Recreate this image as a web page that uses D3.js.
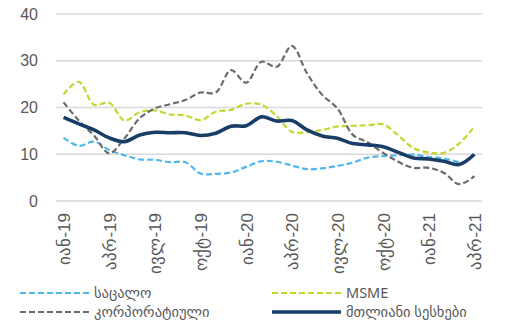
<!DOCTYPE html>
<html>
<head>
<meta charset="utf-8">
<script src="https://cdn.jsdelivr.net/npm/d3@7"></script>
<style>
  body { margin: 0; background: #fff; }
  svg { font-family: "Noto Sans", "DejaVu Sans", sans-serif; }
</style>
</head>
<body>
<div id="chart"></div>
<script>
// monthly categories, Jan-19 .. Apr-21
const months = [
  "იან-19","თებ-19","მარ-19","აპრ-19","მაი-19","ივნ-19","ივლ-19","აგვ-19","სექ-19","ოქტ-19","ნოე-19","დეკ-19",
  "იან-20","თებ-20","მარ-20","აპრ-20","მაი-20","ივნ-20","ივლ-20","აგვ-20","სექ-20","ოქტ-20","ნოე-20","დეკ-20",
  "იან-21","თებ-21","მარ-21","აპრ-21"
];
const shownTicks = ["იან-19","აპრ-19","ივლ-19","ოქტ-19","იან-20","აპრ-20","ივლ-20","ოქტ-20","იან-21","აპრ-21"];
const yTicks = [0, 10, 20, 30, 40];

const retail = [13.5, 11.8, 12.7, 10.9, 9.8, 8.9, 8.8, 8.3, 8.3, 5.9, 5.8, 6.1, 7.3, 8.5, 8.4, 7.6,
  6.8, 7.0, 7.5, 8.2, 9.3, 9.6, 9.8, 9.9, 9.4, 9.1, 8.3, null];
const msme = [22.8, 25.5, 20.6, 21.0, 17.2, 19.0, 19.4, 18.5, 18.3, 17.3, 19.1, 19.5, 20.8, 20.6, 18.2, 14.8,
  14.7, 15.2, 15.9, 16.1, 16.2, 16.4, 14.0, 11.3, 10.4, 10.3, 12.3, 15.9];
const corporate = [21.1, 17.2, 14.0, 10.2, 13.4, 17.7, 19.8, 20.7, 21.6, 23.2, 23.2, 28.0, 25.3, 29.8, 28.7, 33.2,
  27.3, 22.7, 19.8, 14.2, 12.5, 10.3, 8.4, 7.1, 7.1, 6.0, 3.6, 5.3];
const total = [17.9, 16.5, 15.2, 13.5, 12.7, 14.1, 14.7, 14.6, 14.6, 14.0, 14.5, 16.0, 16.1, 18.0, 17.1, 17.2,
  15.2, 13.9, 13.4, 12.3, 12.0, 11.6, 10.4, 9.2, 9.0, 8.5, 7.8, 10.0];

const seriesNames = ["საცალო", "MSME", "კორპორატიული", "მთლიანი სესხები"];

const width = 506;
const height = 323;
const margin = { top: 14, right: 24, bottom: 122, left: 56 };

const series = [
  { name: seriesNames[0], values: retail, color: "#4fb7ea", dash: "6,3", w: 2.2 },
  { name: seriesNames[1], values: msme, color: "#c3d82c", dash: "6,3", w: 2.2 },
  { name: seriesNames[2], values: corporate, color: "#6b6b6b", dash: "6,3", w: 2.2 },
  { name: seriesNames[3], values: total, color: "#183e68", dash: null, w: 3.6 }
];

const svg = d3.select("#chart")
  .append("svg")
  .attr("width", width)
  .attr("height", height);

const x = d3.scalePoint()
  .domain(months)
  .range([margin.left, width - margin.right])
  .padding(0.5);

const y = d3.scaleLinear()
  .domain([0, 40])
  .range([height - margin.bottom, margin.top]);

// grid
svg.append("g")
  .selectAll("line")
  .data(yTicks)
  .enter()
  .append("line")
  .attr("x1", margin.left)
  .attr("x2", width - margin.right)
  .attr("y1", d => y(d))
  .attr("y2", d => y(d))
  .attr("stroke", "#d9d9d9")
  .attr("stroke-width", 1.5);

// y axis labels
const yAxis = svg.append("g")
  .attr("transform", `translate(${margin.left},0)`)
  .call(d3.axisLeft(y).tickValues(yTicks).tickSize(0).tickPadding(18));
yAxis.select(".domain").remove();
yAxis.selectAll("text")
  .style("font-size", "16px")
  .attr("fill", "#595959");

// x axis labels
const xAxis = svg.append("g")
  .attr("transform", `translate(0,${height - margin.bottom})`)
  .call(d3.axisBottom(x).tickValues(shownTicks).tickSize(0));
xAxis.select(".domain").remove();
xAxis.selectAll("text")
  .style("font-size", "17px")
  .attr("fill", "#595959")
  .attr("transform", "rotate(-90)")
  .attr("text-anchor", "end")
  .attr("x", -12)
  .attr("y", 0)
  .attr("dy", "0.35em");

const line = d3.line()
  .defined(d => d.v !== null)
  .x(d => x(d.m))
  .y(d => y(d.v))
  .curve(d3.curveCatmullRom.alpha(0.5));

series.forEach(s => {
  svg.append("path")
    .datum(s.values.map((v, i) => ({ m: months[i], v: v })))
    .attr("fill", "none")
    .attr("stroke", s.color)
    .attr("stroke-width", s.w)
    .attr("stroke-dasharray", s.dash)
    .attr("stroke-linejoin", "round")
    .attr("d", line);
});

// legend
const legendPos = [[20, 293], [272, 293], [20, 312], [272, 312]];

const legend = svg.selectAll(".legend")
  .data(series)
  .enter()
  .append("g")
  .attr("transform", (d, i) => `translate(${legendPos[i][0]},${legendPos[i][1]})`);

legend.append("line")
  .attr("x1", 0)
  .attr("x2", 69)
  .attr("stroke", d => d.color)
  .attr("stroke-width", d => d.w)
  .attr("stroke-dasharray", d => d.dash);

legend.append("text")
  .attr("x", 74)
  .attr("dy", "0.32em")
  .style("font-size", "14.5px")
  .attr("fill", "#595959")
  .text(d => d.name);
</script>
</body>
</html>
